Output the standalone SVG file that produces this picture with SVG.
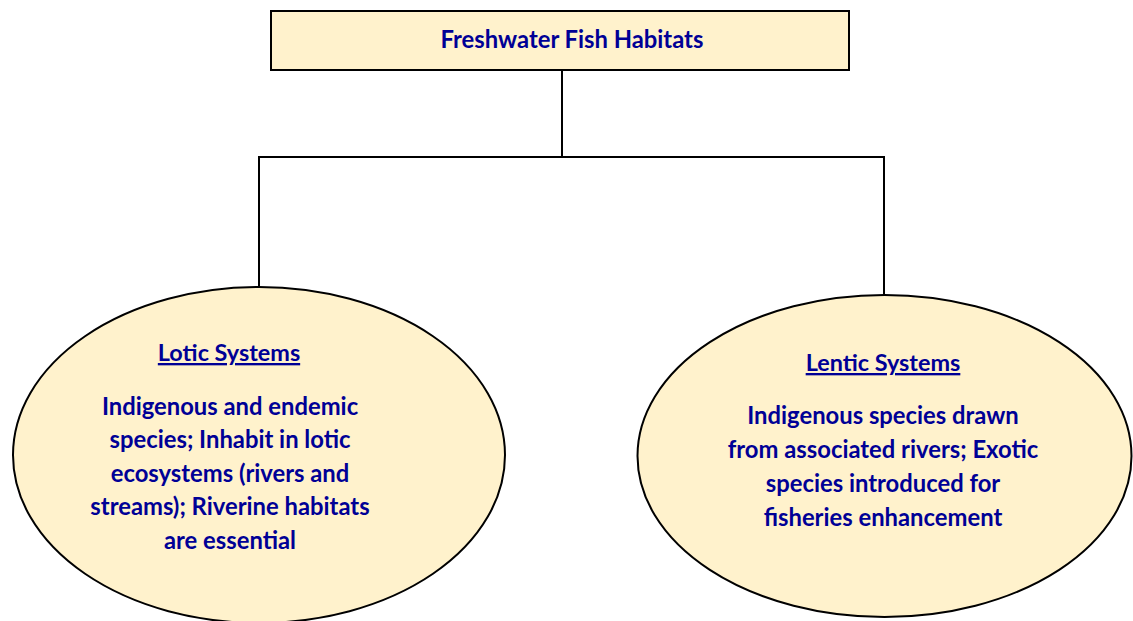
<svg xmlns="http://www.w3.org/2000/svg" width="1133" height="621" viewBox="0 0 1133 621">
<style>
.box{fill:#FFF2CC;stroke:#000;stroke-width:2}
.conn{fill:none;stroke:#000;stroke-width:2}
text{font-family:Lato,"Open Sans","Liberation Sans",sans-serif;font-weight:bold;fill:#000096;text-anchor:middle}
.t{font-size:23.8px}
.h{font-size:23.4px;text-decoration:underline}
.b{font-size:23.8px}
</style>
<rect width="1133" height="621" fill="#fff"/>
<g id="connectors">
<path class="conn" d="M562 70 V157"/>
<path class="conn" d="M259 157 H884"/>
<path class="conn" d="M259 156 V287"/>
<path class="conn" d="M884 156 V295"/>
</g>
<g id="root">
<rect class="box" x="271" y="11" width="578" height="59"/>
<text class="t" x="572" y="48">Freshwater Fish Habitats</text>
</g>
<g id="lotic">
<ellipse class="box" cx="259" cy="455" rx="246" ry="168"/>
<text class="h" x="229" y="361">Lotic Systems</text>
<text class="b" x="230" y="415">Indigenous and endemic</text>
<text class="b" x="230" y="448">species; Inhabit in lotic</text>
<text class="b" x="230" y="482">ecosystems (rivers and</text>
<text class="b" x="230" y="515">streams); Riverine habitats</text>
<text class="b" x="230" y="549">are essential</text>
</g>
<g id="lentic">
<ellipse class="box" cx="884.5" cy="456" rx="247" ry="161"/>
<text class="h" x="883" y="371">Lentic Systems</text>
<text class="b" x="883" y="424">Indigenous species drawn</text>
<text class="b" x="883" y="458">from associated rivers; Exotic</text>
<text class="b" x="883" y="492">species introduced for</text>
<text class="b" x="883" y="526">fisheries enhancement</text>
</g>
</svg>
